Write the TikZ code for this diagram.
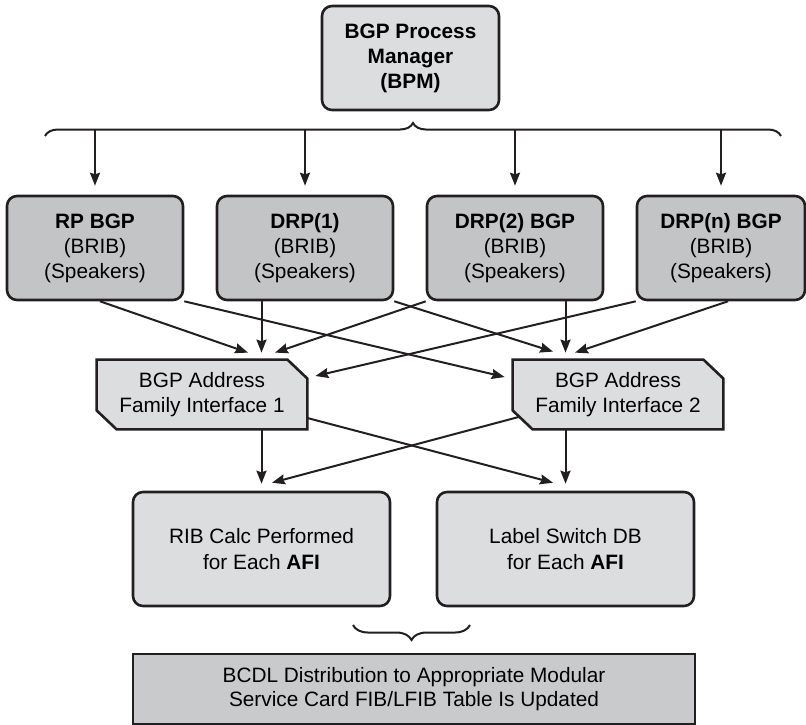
\documentclass[tikz,border=0pt]{standalone}
\usepackage{fontspec}
\setmainfont{Liberation Sans}
\usetikzlibrary{arrows.meta,calc,decorations.pathreplacing,backgrounds}

\definecolor{ink}{HTML}{231F20}
\definecolor{boxlight}{HTML}{DCDDDF}
\definecolor{boxdark}{HTML}{C3C4C6}
\definecolor{boxbase}{HTML}{C9CACC}

\tikzset{
  txt/.style={align=center, font=\fontsize{10.4}{12.5}\selectfont},
  rbox/.style={txt, draw=ink, line width=1.3pt, rounded corners=5pt},
  bpmbox/.style={rbox, fill=boxlight, minimum width=88.5pt, minimum height=52pt,
    font=\fontsize{10.4}{12.5}\selectfont\bfseries},
  spkbox/.style={rbox, fill=boxdark, minimum width=88pt, minimum height=52pt},
  afibox/.style={txt, minimum width=105pt, minimum height=34.5pt},
  afiline/.style={draw=ink, line width=1.3pt, fill=boxlight},
  calcbox/.style={rbox, fill=boxlight, minimum width=128.5pt, minimum height=57pt,
    font=\fontsize{10.4}{13}\selectfont},
  bcdlbox/.style={txt, draw=ink, line width=1.3pt, fill=boxbase,
    minimum width=281pt, minimum height=35pt, font=\fontsize{10.4}{12}\selectfont},
  arr/.style={draw=ink, line width=1pt, -{Stealth[length=6.5pt,width=5pt,inset=0.8pt]}},
  brc/.style={draw=ink, line width=1pt, decorate}
}

\begin{document}
\begin{tikzpicture}[x=0.5pt,y=-0.5pt]
\tikzstyle{every node}+=[inner sep=0pt]
\useasboundingbox (0,0) rectangle (806,724);

\node[bpmbox] (bpm) at (410.5,58) {BGP Process\\Manager\\(BPM)};

\draw[brc, decoration={brace,amplitude=6.5pt}] (45,136) -- (781,136);
\coordinate (bracemid) at (413,130);

\node[spkbox] (rp) at (95,248) {\textbf{RP BGP}\\(BRIB)\\(Speakers)};
\node[spkbox] (drpA) at (305,248) {\textbf{DRP(1)}\\(BRIB)\\(Speakers)};
\node[spkbox] (drpB) at (515,248) {\textbf{DRP(2) BGP}\\(BRIB)\\(Speakers)};
\node[spkbox, minimum width=84pt] (drpN) at (721,248) {\textbf{DRP(n) BGP}\\(BRIB)\\(Speakers)};

\foreach \n in {rp,drpA,drpB,drpN}
  \draw[arr, shorten >=4.5pt] (\n.north |- bracemid) -- (\n.north);

\node[afibox] (afiA) at (202,394.5) {BGP Address\\Family Interface 1};
\node[afibox] (afiB) at (618,394.5) {BGP Address\\Family Interface 2};
\begin{scope}[on background layer]
\foreach \n in {afiA,afiB}
  \draw[afiline] (\n.north west) -- ($(\n.north east)+(-10pt,0)$) -- ($(\n.north east)+(0,-9.5pt)$)
    -- (\n.south east) -- ($(\n.south west)+(10pt,0)$) -- ($(\n.south west)+(0,9.5pt)$) -- cycle;
\end{scope}

\node[calcbox] (ribcalc) at (261.5,549) {RIB Calc Performed\\for Each \textbf{AFI}};
\node[calcbox] (lsdb) at (565.5,549) {Label Switch DB\\for Each \textbf{AFI}};

\draw[arr] ($(rp.south)+(2.5pt,0)$) -- ($(afiA.north)+(23pt,3.5pt)$);
\draw[arr] (rp.south east) -- ($(afiB.west)+(-4pt,8.75pt)$);
\draw[arr, shorten >=3.5pt] (drpA.south -| ribcalc.north) -- (afiA.north -| ribcalc.north);
\draw[arr] (drpA.south east) -- ($(afiB.north)+(-32.5pt,4pt)$);
\draw[arr] (drpB.south west) -- ($(afiA.north)+(36.5pt,3.5pt)$);
\draw[arr, shorten >=3.5pt] (drpB.south -| lsdb.north) -- (afiB.north -| lsdb.north);
\draw[arr] (drpN.south west) -- ($(afiA.east)+(4pt,9.25pt)$);
\draw[arr] ($(drpN.south)+(3.5pt,0)$) -- ($(afiB.north)+(-21.5pt,3.5pt)$);

\draw[arr, shorten >=3.5pt] (afiA.south -| ribcalc.north) -- (ribcalc.north);
\draw[arr] ($(afiA.east)+(0,-11.75pt)$) -- ($(lsdb.north)+(-6.25pt,4pt)$);
\draw[arr] ($(afiB.west)+(3pt,-11.25pt)$) -- ($(ribcalc.north)+(5.25pt,4pt)$);
\draw[arr, shorten >=3.5pt] (afiB.south -| lsdb.north) -- (lsdb.north);

\draw[brc, decoration={brace,amplitude=7.5pt}] (470,625) -- (353,625);

\node[bcdlbox] (bcdl) at (414,689) {BCDL Distribution to Appropriate Modular\\Service Card FIB/LFIB Table Is Updated};
\end{tikzpicture}
\end{document}
